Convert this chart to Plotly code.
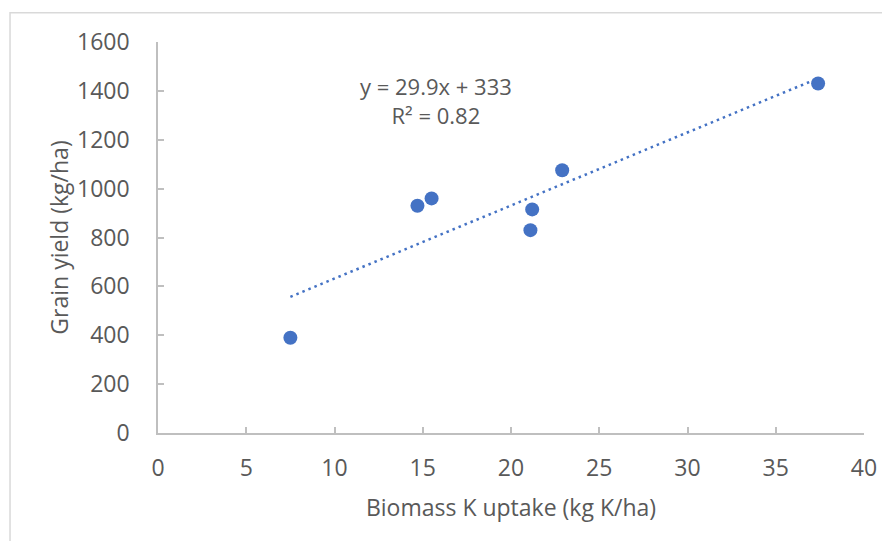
import plotly.graph_objects as go

# Data
biomass_k = [7.5, 14.7, 15.5, 21.1, 21.2, 22.9, 37.4]
grain_yield = [390, 930, 960, 830, 915, 1075, 1430]
slope = 29.9
intercept = 333
eq_text = "y = 29.9x + 333<br>R² = 0.82"
x_ticks = [0, 5, 10, 15, 20, 25, 30, 35, 40]
y_ticks = [0, 200, 400, 600, 800, 1000, 1200, 1400, 1600]

blue = "#4472C4"
gray_text = "#595959"
axis_gray = "#BFBFBF"
font_family = "Open Sans, Lato, sans-serif"

x_line = [min(biomass_k), max(biomass_k)]
y_line = [slope * v + intercept for v in x_line]

fig = go.Figure()
fig.add_trace(go.Scatter(
    x=x_line, y=y_line, mode="lines",
    line=dict(color=blue, width=2.5, dash="2.5px,4px"),
    hoverinfo="skip", showlegend=False,
))
fig.add_trace(go.Scatter(
    x=biomass_k, y=grain_yield, mode="markers",
    marker=dict(color=blue, size=14, line=dict(width=0)),
    showlegend=False,
))

fig.add_annotation(
    x=15.75, y=1360, xref="x", yref="y", text=eq_text, showarrow=False,
    font=dict(family=font_family, size=22, color=gray_text),
    align="center",
)

fig.add_shape(
    type="rect", xref="paper", yref="paper",
    x0=-0.2096, x1=1.2, y0=-0.5, y1=1.075,
    line=dict(color="#D9D9D9", width=1.5), fillcolor="rgba(0,0,0,0)",
    layer="below",
)

fig.update_layout(
    width=890, height=541,
    margin=dict(l=150, r=34, t=34, b=116),
    paper_bgcolor="white", plot_bgcolor="white",
    font=dict(family=font_family, size=23, color=gray_text),
    xaxis=dict(
        range=[0, 40], tickvals=x_ticks, ticks="inside", ticklen=6,
        tickcolor=axis_gray, tickwidth=1.5,
        showline=True, linecolor=axis_gray, linewidth=1.5,
        showgrid=False, zeroline=False, ticklabelstandoff=14,
        tickfont=dict(size=23, color=gray_text),
        title=dict(text="Biomass K uptake (kg K/ha)", standoff=18,
                   font=dict(size=23, color=gray_text)),
    ),
    yaxis=dict(
        range=[0, 1600], tickvals=y_ticks, ticks="inside", ticklen=6,
        tickcolor=axis_gray, tickwidth=1.5,
        showline=True, linecolor=axis_gray, linewidth=1.5,
        showgrid=False, zeroline=False, ticklabelstandoff=22,
        tickfont=dict(size=23, color=gray_text),
        title=dict(text="Grain yield (kg/ha)", standoff=2,
                   font=dict(size=23, color=gray_text)),
    ),
)

fig.write_html("out.html")
